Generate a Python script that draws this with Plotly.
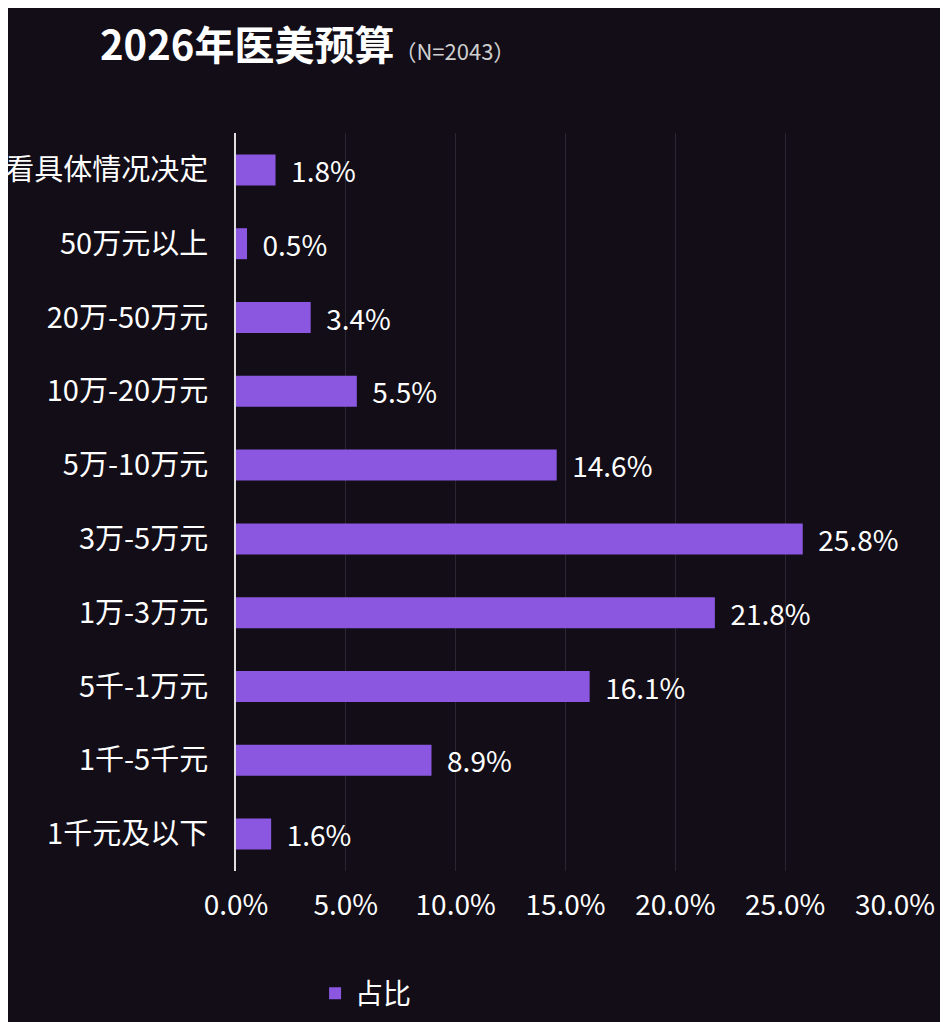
import plotly.graph_objects as go

categories = ["1千元及以下", "1千-5千元", "5千-1万元", "1万-3万元", "3万-5万元",
              "5万-10万元", "10万-20万元", "20万-50万元", "50万元以上", "看具体情况决定"]
shares = [1.6, 8.9, 16.1, 21.8, 25.8, 14.6, 5.5, 3.4, 0.5, 1.8]
x_ticks = [0, 5, 10, 15, 20, 25, 30]

font = "Noto Sans CJK SC"
bg = "#120d17"

fig = go.Figure(go.Bar(
    y=categories, x=shares, orientation="h", name="占比",
    marker=dict(color="#8b57e0", line_width=0), width=0.42,
    text=[f"  {v:.1f}%" for v in shares], textposition="outside",
    constraintext="none",
    textfont=dict(color="white", size=28), cliponaxis=False,
))

fig.update_layout(
    width=948, height=1022,
    paper_bgcolor=bg, plot_bgcolor=bg,
    font=dict(family=font, color="white", size=28),
    margin=dict(l=228, r=61, t=125, b=153),
    title=dict(
        text="<b>2026年医美预算</b><span style='font-size:22px;color:#cfcfcf'>（N=2043）</span>",
        x=92 / 948, xanchor="left", y=1 - 38 / 1022, yanchor="middle",
        font=dict(size=40, color="white", family=font),
    ),
    showlegend=True,
    legend=dict(orientation="h", x=0.12, y=-0.166, xanchor="left", yanchor="middle",
                font=dict(size=28, color="white")),
    bargap=0.58,
)
fig.update_xaxes(
    range=[0, 30], tickvals=x_ticks, ticktext=[f"{v:.1f}%" for v in x_ticks],
    showgrid=True, gridcolor="#2a2530", zeroline=False, showline=False,
    tickfont=dict(size=28, color="white"), ticklabelstandoff=15,
)
fig.update_yaxes(
    showgrid=False, showline=True, linecolor="#e0e0e0", linewidth=2,
    ticks="", automargin=False, ticklabelstandoff=20,
    tickfont=dict(size=29, color="white"),
)

fig.write_html("out.html")
